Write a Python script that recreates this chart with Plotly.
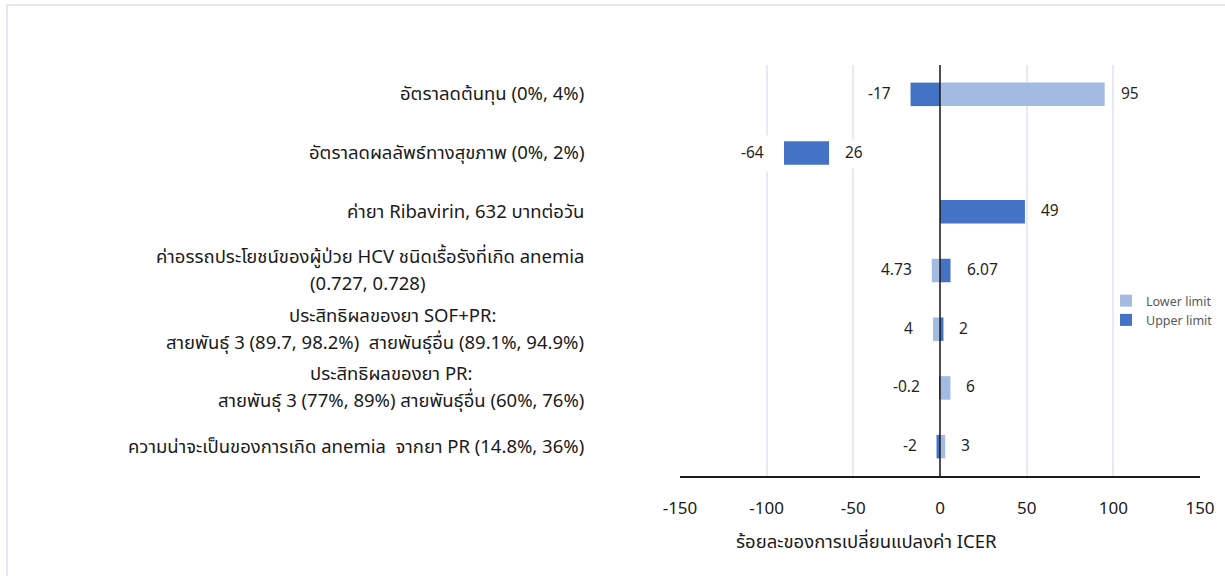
import plotly.graph_objects as go

# ---------------- data ----------------
categories = [
    "อัตราลดต้นทุน (0%, 4%)",
    "อัตราลดผลลัพธ์ทางสุขภาพ (0%, 2%)",
    "ค่ายา Ribavirin, 632 บาทต่อวัน",
    "ค่าอรรถประโยชน์ของผู้ป่วย HCV ชนิดเรื้อรังที่เกิด anemia<br>(0.727, 0.728)",
    "ประสิทธิผลของยา SOF+PR:<br>สายพันธุ์ 3 (89.7, 98.2%)  สายพันธุ์อื่น (89.1%, 94.9%)",
    "ประสิทธิผลของยา PR:<br>สายพันธุ์ 3 (77%, 89%) สายพันธุ์อื่น (60%, 76%)",
    "ความน่าจะเป็นของการเกิด anemia  จากยา PR (14.8%, 36%)",
]
lower_limit = [95, None, None, -4.73, -4, 6, 3]
upper_limit = [-17, -26, 49, 6.07, 2, -0.2, -2]
upper_base = [0, -64, 0, 0, 0, 0, 0]
left_labels = ["-17", "-64", "", "4.73", "4", "-0.2", "-2"]
right_labels = ["95", "26", "49", "6.07", "2", "6", "3"]
x_ticks = [-150, -100, -50, 0, 50, 100, 150]
x_title = "ร้อยละของการเปลี่ยนแปลงค่า ICER"

W, H = 1225, 576
FONT = "Tahoma, 'Noto Sans Thai', 'Noto Sans', 'DejaVu Sans', sans-serif"
LIGHT = "#A3BAE2"
DARK = "#4472C4"
CAT_SIZE = 18.5
LABEL_RIGHT = 586          # right edge (px) of the category label column
LINE_HALF_GAP = 13.5       # half the line spacing (px) of two-line labels
# per-line placement of two-line category labels: (anchor, pixel x)
two_line_layout = {
    3: [("right", LABEL_RIGHT), ("center", 367)],
    4: [("center", 392), ("right", LABEL_RIGHT)],
    5: [("center", 391), ("right", LABEL_RIGHT)],
}

fig = go.Figure()
fig.add_trace(go.Bar(
    y=categories, x=lower_limit, orientation="h", name="Lower limit",
    marker=dict(color=LIGHT, line=dict(width=0)), width=0.4,
))
fig.add_trace(go.Bar(
    y=categories, x=upper_limit, base=upper_base, orientation="h", name="Upper limit",
    marker=dict(color=DARK, line=dict(width=0)), width=0.4,
))

annotations = []
cat_font = dict(family=FONT, size=CAT_SIZE, color="#1a1a1a")
for i, cat in enumerate(categories):
    ends = []
    if lower_limit[i] is not None:
        ends += [0, lower_limit[i]]
    ends += [upper_base[i], upper_base[i] + upper_limit[i]]
    lo, hi = min(ends), max(ends)
    if left_labels[i]:
        annotations.append(dict(
            x=lo, y=cat, xref="x", yref="y", text=left_labels[i], showarrow=False,
            xanchor="right", xshift=-13, bgcolor="white", borderpad=6,
            font=dict(family=FONT, size=15.5, color="#1f1f1f"),
        ))
    if right_labels[i]:
        annotations.append(dict(
            x=hi, y=cat, xref="x", yref="y", text=right_labels[i], showarrow=False,
            xanchor="left", xshift=13, bgcolor="white", borderpad=2,
            font=dict(family=FONT, size=15.5, color="#1f1f1f"),
        ))
    # category labels
    lines = cat.split("<br>")
    if len(lines) == 1:
        annotations.append(dict(
            x=LABEL_RIGHT / W, y=cat, xref="paper", yref="y", text=cat, showarrow=False,
            xanchor="right", font=cat_font,
        ))
    else:
        for k, line in enumerate(lines):
            anchor, px = two_line_layout[i][k]
            annotations.append(dict(
                x=px / W, y=cat, xref="paper", yref="y", text=line, showarrow=False,
                xanchor=anchor, yshift=LINE_HALF_GAP if k == 0 else -LINE_HALF_GAP,
                font=cat_font,
            ))

annotations.append(dict(
    x=866 / W, y=1 - 542 / H, xref="paper", yref="paper", text=x_title,
    showarrow=False, xanchor="center", yanchor="middle",
    font=dict(family=FONT, size=18.5, color="#1a1a1a"),
))

shapes = [
    # outer chart border
    dict(type="rect", xref="paper", yref="paper", x0=7 / W, x1=1.02, y0=-0.02, y1=1 - 5 / H,
         line=dict(color="#E3E7EF", width=2), fillcolor="rgba(0,0,0,0)", layer="below"),
    # zero line above bars
    dict(type="line", xref="x", yref="y domain", x0=0, x1=0, y0=0, y1=1,
         line=dict(color="#1a1a1a", width=1.5), layer="above"),
]

fig.update_layout(
    width=W, height=H,
    margin=dict(l=0, r=0, t=0, b=0, autoexpand=False),
    paper_bgcolor="white", plot_bgcolor="white",
    barmode="overlay",
    font=dict(family=FONT),
    xaxis=dict(
        domain=[680 / W, 1200 / W], range=[-150, 150], tickvals=x_ticks,
        ticktext=[str(v) for v in x_ticks],
        showgrid=True, gridcolor="#E6EAF2", gridwidth=1.5, zeroline=False,
        showline=True, linecolor="#1a1a1a", linewidth=1.5,
        ticks="", ticklabelstandoff=16, automargin=False,
        tickfont=dict(family=FONT, size=17, color="#1a1a1a"),
    ),
    yaxis=dict(
        domain=[1 - 476 / H, 1 - 65 / H], autorange="reversed",
        showticklabels=False, showgrid=False, zeroline=False, showline=False,
        type="category", automargin=False,
    ),
    legend=dict(
        x=1106 / W, y=1 - 286 / H, xanchor="left", yanchor="top",
        font=dict(family=FONT, size=12.5, color="#595959"),
        itemwidth=30, tracegroupgap=8, bgcolor="rgba(0,0,0,0)",
    ),
    annotations=annotations,
    shapes=shapes,
    bargap=0.6,
)

fig.write_html("out.html")
